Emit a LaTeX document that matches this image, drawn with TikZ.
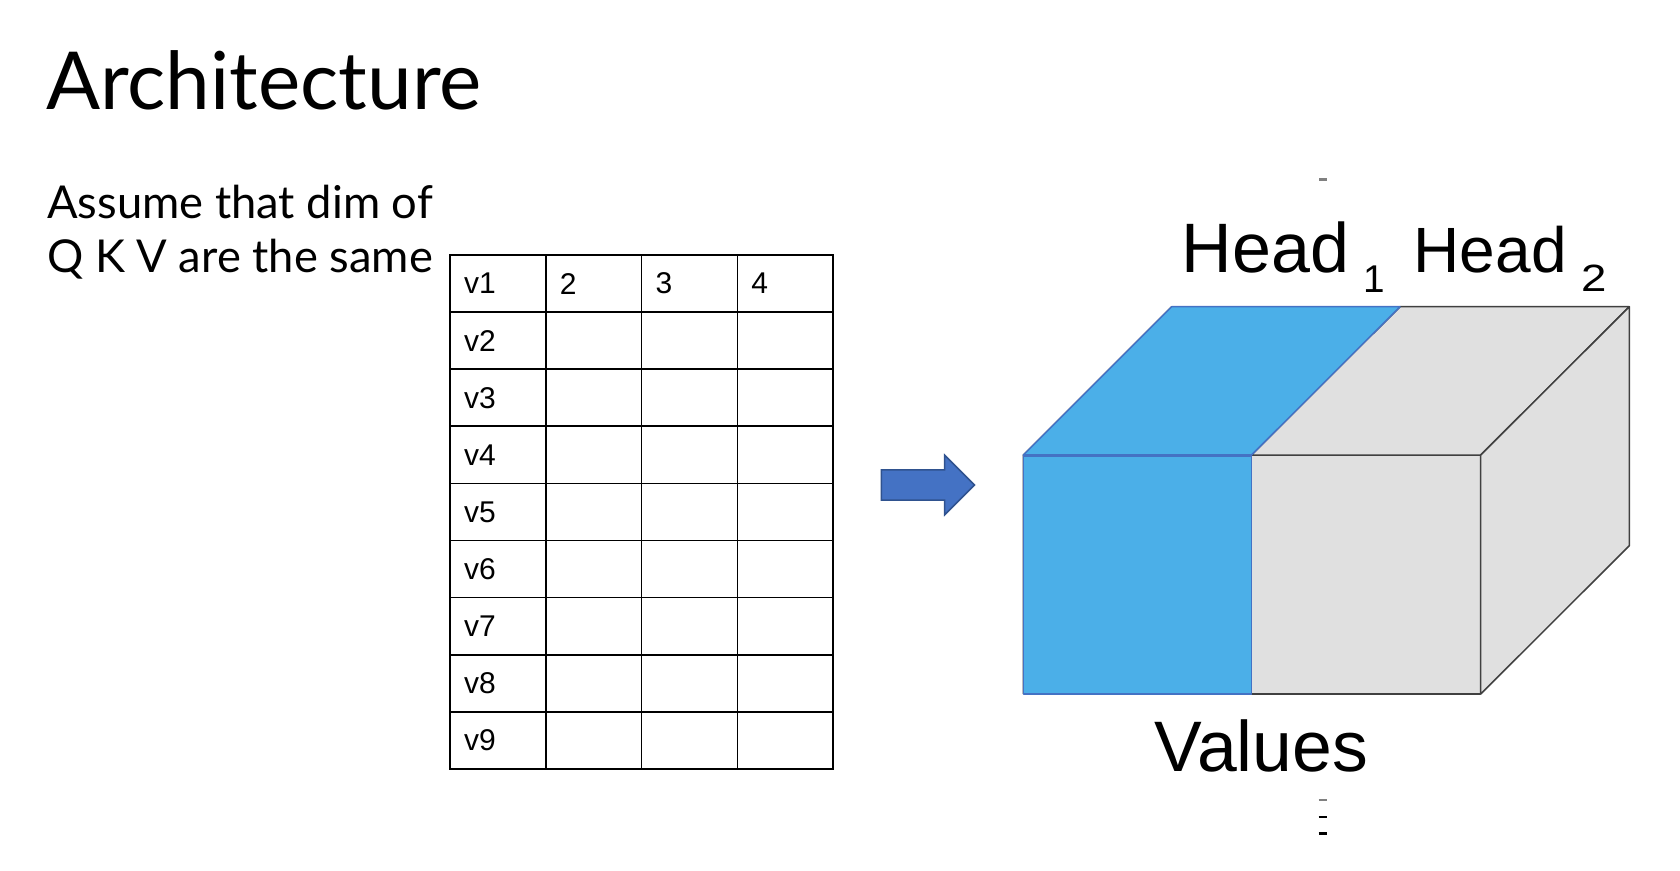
\documentclass[tikz,border=0pt]{standalone}
\usepackage{fontspec}
\usepackage{graphicx}
\setmainfont{Lato}
\newfontfamily\tabfont{Liberation Sans}
\usetikzlibrary{positioning,shapes.arrows}
\definecolor{headblue}{RGB}{75,175,232}
\definecolor{cubegray}{RGB}{224,224,224}
\definecolor{edgegray}{RGB}{64,64,64}
\definecolor{edgeblue}{RGB}{68,114,196}
\definecolor{arrowblue}{RGB}{68,114,196}
\definecolor{arrowline}{RGB}{47,82,143}

\begin{document}
\begin{tikzpicture}[x=1pt, y=-1pt]
    \tikzstyle{cell} = [rectangle, draw, line width=1.7pt, outer sep=0pt, inner xsep=14pt, inner ysep=0pt, text width=67.8pt, minimum height=57.1pt, align=left, font=\tabfont\fontsize{30}{30}\selectfont]
    \tikzstyle{face} = [draw=edgegray, line width=1.5pt, fill=cubegray, line join=round]
    \tikzstyle{headface} = [draw=edgeblue, line width=1.5pt, fill=headblue, line join=round]
    \tikzstyle{label} = [inner sep=0pt, anchor=base west, font=\tabfont\fontsize{70}{70}\selectfont]
    \tikzstyle{slide} = [inner sep=0pt, anchor=base west]
    \tikzstyle{tick} = [line width=2.5pt]
    \useasboundingbox (0,0) rectangle (1680,870);

    % slide text
    \node[slide, font=\fontsize{80}{80}\selectfont] (title) at (46,109.3) {Architecture};
    \node[slide, font=\fontsize{45.3}{45.3}\selectfont] (assume) at (47,218.3) {Assume that dim of};
    \node[slide, font=\fontsize{45.3}{45.3}\selectfont] (same) at (47,272.4) {Q K V are the same};

    % value table
    \node[cell] (v1) at (497.9,283.55) {v1};
    \node[cell, right=0pt of v1] (b1) {2};
    \node[cell, right=0pt of b1] (c1) {3};
    \node[cell, right=0pt of c1] (d1) {4};
    \foreach \r [remember=\r as \p (initially 1)] in {2,...,9} {
        \node[cell, below=0pt of v\p] (v\r) {v\r};
        \node[cell, right=0pt of v\r] (b\r) {};
        \node[cell, right=0pt of b\r] (c\r) {};
        \node[cell, right=0pt of c\r] (d\r) {};
    }

    \node[single arrow, draw=arrowline, fill=arrowblue, line width=1.5pt, minimum height=93pt, inner xsep=0pt, inner ysep=14.3pt, single arrow head extend=14.85pt, anchor=tip] (split) at (975.5,485) {};

    % cube
    \coordinate (fa) at (1023.3,455);
    \coordinate (fb) at (1251.5,455);
    \coordinate (fc) at (1480.7,455);
    \coordinate (fd) at (1480.7,694);
    \coordinate (fe) at (1251.5,694);
    \coordinate (ff) at (1023.3,694);
    \coordinate (ta) at (1171.7,306.7);
    \coordinate (tb) at (1400,306.7);
    \coordinate (tc) at (1629.3,306.7);
    \coordinate (td) at (1629.3,545.7);

    \draw[face] (fb) -- (fc) -- (fd) -- (fe) -- cycle;
    \draw[face] (fb) -- (fc) -- (tc) -- (tb) -- cycle;
    \draw[face] (fc) -- (tc) -- (td) -- (fd) -- cycle;
    \draw[edgegray, line width=1.5pt, xshift=-1.5pt] (ff) -- (fa) -- (ta);
    \draw[headface] (fa) -- (fb) -- (fe) -- (ff) -- cycle;
    \draw[headface] (fa) -- (fb) -- (tb) -- (ta) -- cycle;
    \draw[edgeblue, line width=3pt] (fa) -- (fb);

    \node[label] (head1) at (1181.5,272.7) {Head\hspace{14pt}\raisebox{-20pt}{\fontsize{38.7}{38.7}\selectfont 1}};
    \node[label, font=\tabfont\fontsize{64}{64}\selectfont] (head2) at (1413.5,272.7) {Head\hspace{15pt}\raisebox{-18.5pt}{\scalebox{1.2}[1]{\fontsize{38}{38}\selectfont 2}}};
    \node[label, font=\tabfont\fontsize{71.5}{71.5}\selectfont] (values) at (1154.5,771.7) {Values};

    % stray marks
    \draw[tick, gray] (1318.5,800) -- (1326.5,800);
    \draw[tick] (1318.5,817) -- (1326.5,817);
    \draw[tick] (1318.5,833.5) -- (1326.5,833.5);
    \draw[tick, gray] (1319,179.3) -- (1327,179.3);
\end{tikzpicture}
\end{document}
